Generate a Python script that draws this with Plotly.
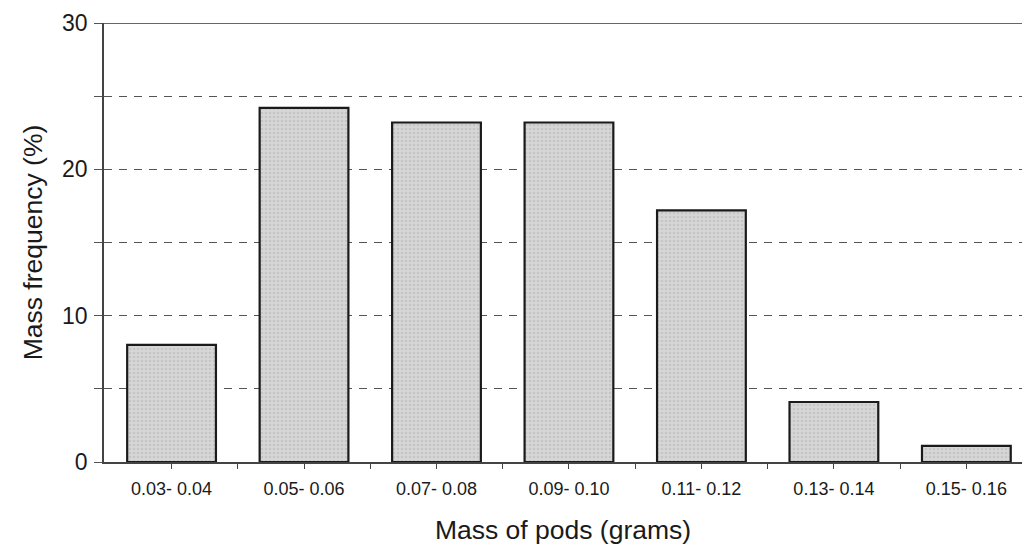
import plotly.graph_objects as go

# Pod mass classes (grams) and share of total mass in each class (%)
mass_classes = ["0.03- 0.04", "0.05- 0.06", "0.07- 0.08", "0.09- 0.10",
                "0.11- 0.12", "0.13- 0.14", "0.15- 0.16"]
mass_frequency = [8.0, 24.2, 23.2, 23.2, 17.2, 4.1, 1.1]
y_tick_values = [0, 10, 20, 30]

fig = go.Figure()
fig.add_trace(go.Bar(
    x=list(range(len(mass_classes))),
    y=mass_frequency,
    width=0.67,
    marker=dict(
        color="#d2d2d2",
        line=dict(color="#1a1a1a", width=2.2),
        pattern=dict(shape=".", fgcolor="#b4b4b4", bgcolor="#d6d6d6",
                     size=4, solidity=0.35),
    ),
    hoverinfo="x+y",
))

font_family = "Liberation Sans, Arial, sans-serif"

fig.update_layout(
    width=1022, height=549,
    margin=dict(l=104, r=0, t=23, b=87),
    paper_bgcolor="white", plot_bgcolor="white",
    showlegend=False,
    font=dict(family=font_family, color="#1a1a1a"),
    xaxis=dict(
        range=[-0.51, 6.42],
        tickmode="array",
        tickvals=list(range(len(mass_classes))),
        ticktext=mass_classes,
        tickfont=dict(size=18, color="#1a1a1a"),
        ticks="outside", ticklen=5, tickcolor="#444", tickwidth=1,
        ticklabelstandoff=5,
        minor=dict(tickmode="array",
                   tickvals=[i + 0.5 for i in range(len(mass_classes))],
                   ticks="outside", ticklen=5, tickcolor="#444", showgrid=False),
        showline=True, linecolor="#444", linewidth=1.5,
        showgrid=False, zeroline=False,
        title=dict(text="Mass of pods (grams)", font=dict(size=26.5, color="#1a1a1a"),
                   standoff=22),
    ),
    yaxis=dict(
        range=[0, 30],
        tickvals=y_tick_values,
        tickfont=dict(size=23, color="#1a1a1a"),
        ticks="outside", ticklen=8, tickcolor="#555", tickwidth=1,
        ticklabelstandoff=2,
        showline=True, linecolor="#444", linewidth=1.5,
        showgrid=True, gridcolor="#555", griddash="8px,7px", gridwidth=1,
        minor=dict(dtick=5, showgrid=True, gridcolor="#555", griddash="8px,7px",
                   gridwidth=1, ticks="outside", ticklen=8, tickcolor="#555"),
        zeroline=False,
        title=dict(text="Mass frequency (%)", font=dict(size=26.5, color="#1a1a1a"),
                   standoff=12),
    ),
)

# solid frame line along the top of the plotting area
fig.add_shape(type="line", xref="paper", yref="y", x0=0, x1=1, y0=30, y1=30,
              line=dict(color="#333", width=1.5), layer="above")

fig.write_html("out.html")
